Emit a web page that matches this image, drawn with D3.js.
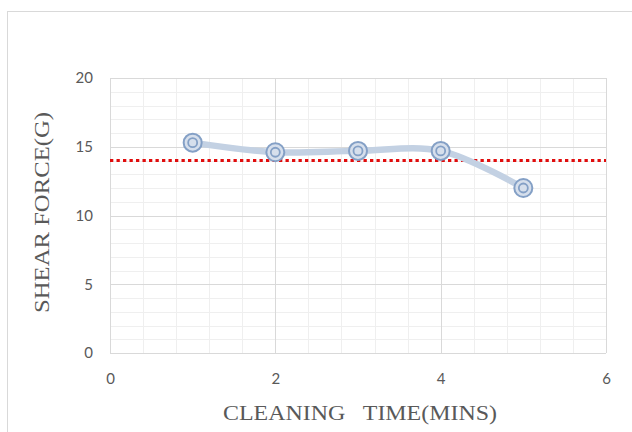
<!DOCTYPE html>
<html><head><meta charset="utf-8">
<script src="https://cdn.jsdelivr.net/npm/d3@7"></script>
<style>html,body{margin:0;padding:0;background:#fff;}svg{display:block;}</style>
</head><body>
<svg id="c" width="632" height="432"></svg>
<script>
const cleaningTime = [1, 2, 3, 4, 5];
const shearForce = [15.3, 14.6, 14.7, 14.7, 12.0];
const thresholdValue = 14.0;
const xTicks = [0, 2, 4, 6];
const yTicks = [0, 5, 10, 15, 20];
const xTitle = "CLEANING   TIME(MINS)";
const yTitle = "SHEAR FORCE(G)";

const svg = d3.select("#c");
const pL = 110, pR = 606, pT = 78, pB = 353;
const x = d3.scaleLinear().domain([0, 6]).range([pL, pR]);
const y = d3.scaleLinear().domain([0, 20]).range([pB, pT]);

// chart border
svg.append("rect").attr("x", 7.5).attr("y", 11.5).attr("width", 640).attr("height", 440)
  .attr("fill", "none").attr("stroke", "#d9d9d9").attr("stroke-width", 1);

// minor grid
const g = svg.append("g");
g.selectAll(".mx").data(d3.range(0, 6.0001, 0.4)).join("line")
  .attr("x1", d => Math.round(x(d)) + 0.5).attr("x2", d => Math.round(x(d)) + 0.5)
  .attr("y1", pT).attr("y2", pB).attr("stroke", "#efefef").attr("stroke-width", 1);
g.selectAll(".my").data(d3.range(0, 20.001, 1)).join("line")
  .attr("y1", d => Math.round(y(d)) + 0.5).attr("y2", d => Math.round(y(d)) + 0.5)
  .attr("x1", pL).attr("x2", pR).attr("stroke", "#efefef").attr("stroke-width", 1);
// major grid
const g2 = svg.append("g");
g2.selectAll(".Mx").data(xTicks).join("line")
  .attr("x1", d => Math.round(x(d)) + 0.5).attr("x2", d => Math.round(x(d)) + 0.5)
  .attr("y1", pT).attr("y2", pB).attr("stroke", "#d9d9d9").attr("stroke-width", 1);
g2.selectAll(".My").data(yTicks).join("line")
  .attr("y1", d => Math.round(y(d)) + 0.5).attr("y2", d => Math.round(y(d)) + 0.5)
  .attr("x1", pL).attr("x2", pR).attr("stroke", "#d9d9d9").attr("stroke-width", 1);

// tick labels
const yAxis = d3.axisLeft(y).tickValues(yTicks).tickFormat(d3.format("d")).tickSize(0).tickPadding(0);
const ya = svg.append("g").attr("transform", `translate(${pL - 17},0)`).call(yAxis);
ya.select(".domain").remove();
ya.selectAll("text").attr("font-family", "Lato, 'Open Sans', sans-serif").attr("font-size", 15).attr("fill", "#595959");

const xAxis = d3.axisBottom(x).tickValues(xTicks).tickFormat(d3.format("d")).tickSize(0).tickPadding(0);
const xa = svg.append("g").attr("transform", `translate(0,${pB + 20})`).call(xAxis);
xa.select(".domain").remove();
xa.selectAll("text").attr("font-family", "Lato, 'Open Sans', sans-serif").attr("font-size", 15).attr("fill", "#595959");

// threshold dotted line
svg.append("line").attr("x1", pL).attr("x2", pR)
  .attr("y1", y(thresholdValue)).attr("y2", y(thresholdValue))
  .attr("stroke", "#e00c0c").attr("stroke-width", 3.2).attr("stroke-dasharray", "3.3,3.2");

// series line
const pts = cleaningTime.map((t, i) => [t, shearForce[i]]);
svg.append("path").datum(pts)
  .attr("d", d3.line().x(d => x(d[0])).y(d => y(d[1])).curve(d3.curveCatmullRom.alpha(0.5)))
  .attr("fill", "none").attr("stroke", "#c3d1e3").attr("stroke-width", 6.5).attr("stroke-linecap", "round");

// markers
const m = svg.append("g").selectAll("g").data(pts).join("g")
  .attr("transform", d => `translate(${x(d[0])},${y(d[1])})`);
m.append("circle").attr("r", 9).attr("fill", "#d6dfec").attr("stroke", "#84a0c6").attr("stroke-width", 2);
m.append("circle").attr("r", 4.5).attr("fill", "#d6dfec").attr("stroke", "#84a0c6").attr("stroke-width", 1.8);

// axis titles
svg.append("text").attr("x", 223).attr("y", 420)
  .attr("font-family", "'Liberation Serif', 'Times New Roman', serif").attr("font-size", 20)
  .attr("textLength", 274).attr("lengthAdjust", "spacingAndGlyphs")
  .attr("fill", "#595959").style("white-space", "pre").text(xTitle);
svg.append("text").attr("transform", "translate(49,313) rotate(-90)")
  .attr("font-family", "'Liberation Serif', 'Times New Roman', serif").attr("font-size", 20)
  .attr("textLength", 201).attr("lengthAdjust", "spacingAndGlyphs")
  .attr("fill", "#595959").text(yTitle);
</script>
</body></html>
